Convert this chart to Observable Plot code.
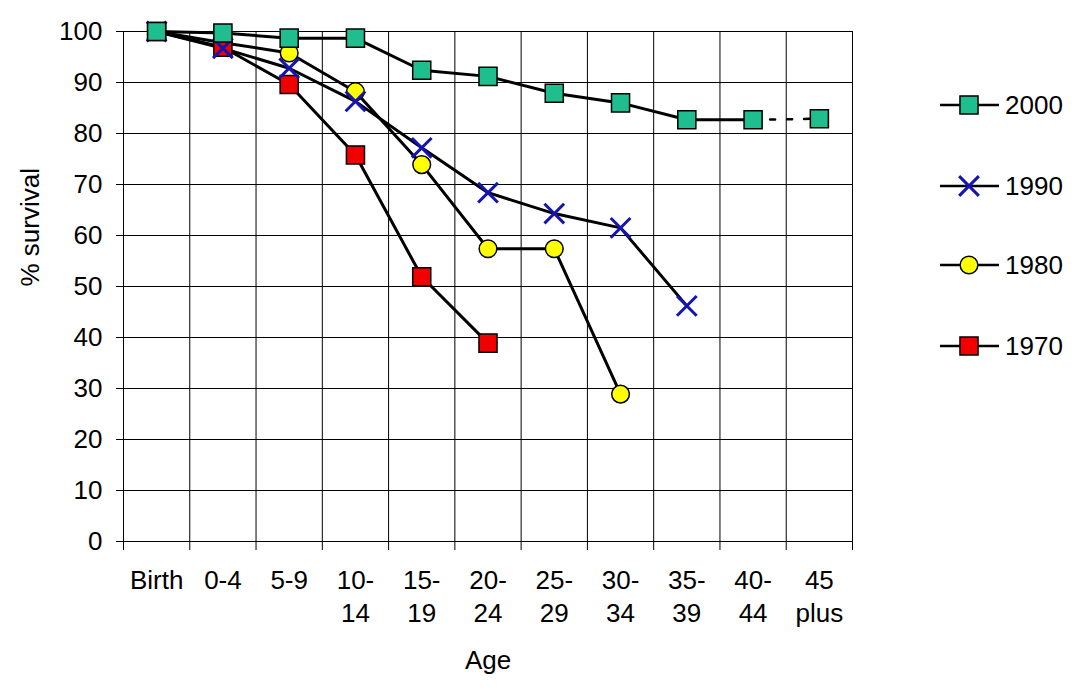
<!DOCTYPE html>
<html>
<head>
<meta charset="utf-8">
<script src="https://cdn.jsdelivr.net/npm/d3@7"></script>
<script src="https://cdn.jsdelivr.net/npm/@observablehq/plot@0.6"></script>
<style>
  html, body { margin: 0; padding: 0; background: #fff; }
  #wrap { position: relative; width: 1081px; height: 691px; font-family: "Liberation Sans", Arial, sans-serif; }
  #legend .item { position: absolute; left: 940px; height: 30px; display: flex; align-items: center; }
  #legend .item span { font-size: 26px; margin-left: 5px; color: #000; line-height: 30px; }
</style>
</head>
<body>
<div id="wrap">
  <div id="chart"></div>
  <div id="legend"></div>
</div>
<script>
// ---- data ----
const categories = ["Birth", "0-4", "5-9", "10-\n14", "15-\n19", "20-\n24", "25-\n29", "30-\n34", "35-\n39", "40-\n44", "45\nplus"];
const yTicks = [0, 10, 20, 30, 40, 50, 60, 70, 80, 90, 100];
const seriesNames = ["2000", "1990", "1980", "1970"];
const s2000 = [100, 99.7, 98.7, 98.7, 92.4, 91.2, 87.9, 86.0, 82.7, 82.7, 82.9];
const s1990 = [100, 96.7, 92.8, 86.3, 77.2, 68.4, 64.3, 61.5, 46.2];
const s1980 = [100, 97.8, 95.8, 88.2, 73.9, 57.4, 57.4, 28.9];
const s1970 = [100, 96.9, 89.6, 75.8, 51.9, 38.9];

// ---- styles ----
const teal = "#1ebe8e", blue = "#1414b4", yellow = "#ffff00", red = "#f20000";
const indices = categories.map((d, i) => i);
const edges = d3.range(categories.length + 1).map(i => i - 0.5);
const idx = (d, i) => i;

const lineOpts = {x: idx, y: d => d, stroke: "black", strokeWidth: 3};
const plot = Plot.plot({
  width: 1081,
  height: 691,
  marginLeft: 123,
  marginRight: 229,
  marginTop: 31,
  marginBottom: 150,
  style: {fontFamily: "'Liberation Sans', Arial, sans-serif", fontSize: "26px", color: "black", background: "white"},
  x: {domain: [-0.5, categories.length - 0.5], axis: null},
  y: {domain: [0, 100], axis: null},
  marks: [
    Plot.ruleY(yTicks, {stroke: "black", strokeWidth: 1}),
    Plot.ruleX(edges, {stroke: "black", strokeWidth: 1}),
    Plot.axisY(yTicks, {anchor: "left", tickSize: 7, tickPadding: 14, fontSize: 26, label: null, strokeWidth: 1}),
    Plot.axisX(edges, {anchor: "bottom", tickSize: 9, tickFormat: () => "", label: null, strokeWidth: 1}),
    Plot.axisX(indices, {anchor: "bottom", tickSize: 0, tickPadding: 24, fontSize: 26, lineHeight: 1.27, tickFormat: i => categories[i], label: null}),
    Plot.text(["% survival"], {frameAnchor: "left", rotate: -90, dx: -93, fontSize: 26}),
    Plot.text(["Age"], {frameAnchor: "bottom", lineAnchor: "middle", dy: 119, fontSize: 26}),
    // lines
    Plot.line(s2000, {...lineOpts, filter: (d, i) => i <= 9}),
    Plot.line(s2000, {...lineOpts, filter: (d, i) => i >= 9, strokeDasharray: "5,12", strokeWidth: 2.5}),
    Plot.line(s1990, lineOpts),
    Plot.line(s1980, lineOpts),
    Plot.line(s1970, lineOpts),
    // markers
    Plot.dot(s1980, {x: idx, y: d => d, symbol: "circle", r: 8.85, fill: yellow, stroke: "black", strokeWidth: 1.5}),
    Plot.dot(s1970, {x: idx, y: d => d, symbol: "square", r: 10.2, fill: red, stroke: "black", strokeWidth: 1.5}),
    Plot.dot(s1990, {x: idx, y: d => d, symbol: "times", r: 9, stroke: blue, strokeWidth: 3}),
    Plot.dot(s2000, {x: idx, y: d => d, symbol: "square", r: 10.2, fill: teal, stroke: "black", strokeWidth: 1.5})
  ]
});
document.getElementById("chart").appendChild(plot);

// ---- legend ----
const legendItems = [
  {name: seriesNames[0], symbol: d3.symbolSquare, r: 10.2, fill: teal, stroke: "black", sw: 1.5, top: 105},
  {name: seriesNames[1], symbol: d3.symbolTimes, r: 9, fill: "none", stroke: blue, sw: 3, top: 186},
  {name: seriesNames[2], symbol: d3.symbolCircle, r: 8.85, fill: yellow, stroke: "black", sw: 1.5, top: 265},
  {name: seriesNames[3], symbol: d3.symbolSquare, r: 10.2, fill: red, stroke: "black", sw: 1.5, top: 346}
];
const legend = d3.select("#legend");
for (const it of legendItems) {
  const div = legend.append("div").attr("class", "item").style("top", (it.top - 15) + "px");
  const svg = div.append("svg").attr("width", 60).attr("height", 30);
  svg.append("line").attr("x1", 0).attr("x2", 59).attr("y1", 15).attr("y2", 15).attr("stroke", "black").attr("stroke-width", 2.5);
  svg.append("path")
    .attr("transform", "translate(29,15)")
    .attr("d", d3.symbol(it.symbol, it.r * it.r * Math.PI)())
    .attr("fill", it.fill).attr("stroke", it.stroke).attr("stroke-width", it.sw);
  div.append("span").text(it.name);
}
</script>
</body>
</html>
